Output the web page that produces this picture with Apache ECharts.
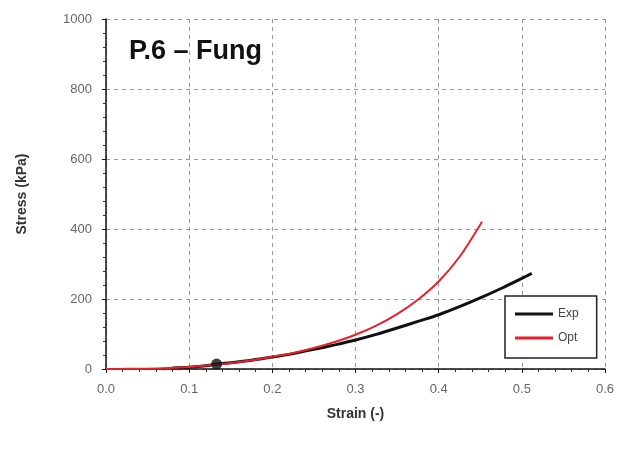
<!DOCTYPE html>
<html><head><meta charset="utf-8">
<script src="https://cdn.jsdelivr.net/npm/echarts@6/dist/echarts.min.js"></script>
<style>html,body{margin:0;padding:0;background:#fff}#c{width:621px;height:449px}</style>
</head><body><div id="c"></div>
<script>
const title = "P.6 – Fung";
const xName = "Strain (-)";
const yName = "Stress (kPa)";
const expStrain = [0.08, 0.10, 0.12, 0.133, 0.15, 0.175, 0.20, 0.225, 0.25, 0.275, 0.30, 0.325, 0.35, 0.375, 0.40, 0.425, 0.45, 0.475, 0.50, 0.512];
const expStress = [3, 5, 9, 14, 18, 25, 34, 44, 56, 69, 83, 99, 117, 136, 155, 178, 203, 230, 259, 273];
const optStrain = [0.0, 0.025, 0.05, 0.075, 0.10, 0.125, 0.15, 0.175, 0.20, 0.225, 0.25, 0.275, 0.30, 0.325, 0.35, 0.375, 0.40, 0.425, 0.45, 0.452];
const optStress = [0, 0.5, 1, 3, 6, 11, 17, 25, 35, 46, 60, 77, 98, 124, 157, 198, 250, 320, 412, 421];
const pointStrain = [0.133];
const pointStress = [14];

const zip = (a, b) => a.map((v, i) => [v, b[i]]);
const chart = echarts.init(document.getElementById('c'));
chart.setOption({
  animation: false,
  backgroundColor: '#fff',
  textStyle: { fontFamily: 'Liberation Sans, Arial, sans-serif' },
  title: {
    text: title, left: 124, top: 33,
    textStyle: { fontSize: 27, fontWeight: 'bold', color: '#111', fontFamily: 'Liberation Sans, Arial, sans-serif' }
  },
  legend: {
    orient: 'vertical', left: 505, top: 296,
    data: ['Exp', 'Opt'],
    itemWidth: 38, itemHeight: 3, itemGap: 12,
    padding: [12, 18, 14, 10],
    borderColor: '#222', borderWidth: 1.5, backgroundColor: '#fff',
    textStyle: { fontSize: 12, color: '#444' },
    icon: 'rect'
  },
  grid: { left: 106, right: 16, top: 19, bottom: 80 },
  xAxis: {
    type: 'value', min: 0, max: 0.6, interval: 0.1,
    name: xName, nameLocation: 'middle', nameGap: 38,
    nameTextStyle: { fontSize: 14, fontWeight: 'bold', color: '#333' },
    axisLine: { onZero: false, lineStyle: { color: '#111', width: 1.5 } },
    axisTick: { show: true, inside: false, length: 4, lineStyle: { color: '#111' } },
    minorTick: { show: true, splitNumber: 5, length: 3, lineStyle: { color: '#333' } },
    axisLabel: { fontSize: 13, color: '#666', margin: 14, formatter: v => v.toFixed(1) },
    splitLine: { show: true, lineStyle: { type: [4, 4], color: '#999', width: 1 } }
  },
  yAxis: {
    type: 'value', min: 0, max: 1000, interval: 200,
    name: yName, nameLocation: 'middle', nameGap: 77,
    nameTextStyle: { fontSize: 14, fontWeight: 'bold', color: '#333' },
    axisLine: { show: true, lineStyle: { color: '#111', width: 1.5 } },
    axisTick: { show: true, length: 4, lineStyle: { color: '#111' } },
    minorTick: { show: true, splitNumber: 5, length: 3, lineStyle: { color: '#333' } },
    axisLabel: { fontSize: 13, color: '#666', margin: 14, formatter: v => String(v) },
    splitLine: { show: true, lineStyle: { type: [4, 4], color: '#999', width: 1 } }
  },
  series: [
    {
      name: 'Exp', type: 'line', data: zip(expStrain, expStress), smooth: 0.3,
      showSymbol: false, lineStyle: { color: '#111', width: 3 }, itemStyle: { color: '#111' }, z: 3
    },
    {
      name: 'Opt', type: 'line', data: zip(optStrain, optStress), smooth: 0.3,
      showSymbol: false, lineStyle: { color: '#e8202a', width: 2 }, itemStyle: { color: '#e8202a' }, z: 4
    },
    {
      name: 'point', type: 'scatter', data: zip(pointStrain, pointStress),
      symbolSize: 11, itemStyle: { color: '#111' }, z: 5
    }
  ]
});
</script></body></html>
